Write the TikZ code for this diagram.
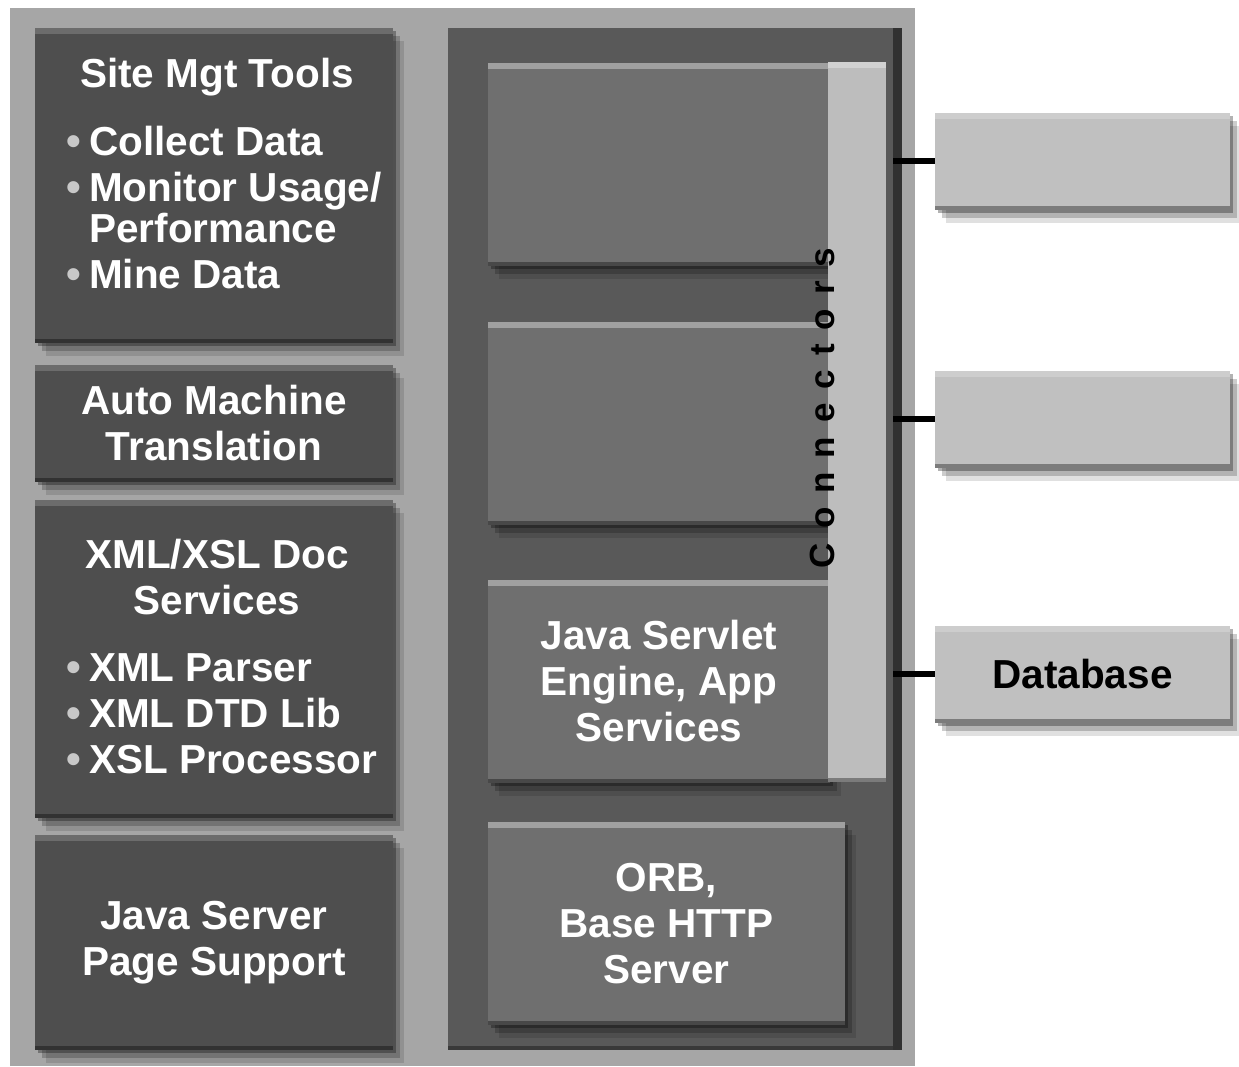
\documentclass[tikz,border=0pt]{standalone}
\usepackage{fontspec}
\setmainfont{Liberation Sans}
\usetikzlibrary{shadows}

\definecolor{panelgray}{HTML}{A6A6A6}
\definecolor{darkbox}{HTML}{4E4E4E}
\definecolor{darkhi}{HTML}{6C6C6C}
\definecolor{framegray}{HTML}{595959}
\definecolor{midbox}{HTML}{6F6F6F}
\definecolor{midhi}{HTML}{A0A0A0}
\definecolor{bargray}{HTML}{BDBDBD}
\definecolor{lightbox}{HTML}{C0C0C0}
\definecolor{bulgray}{HTML}{C8C8C8}

\newcommand{\bul}{\raisebox{0pt}{\color{bulgray}\fontsize{42}{42}\selectfont\textbullet}}

\tikzset{
  softshadow/.style={
    drop shadow={shadow xshift=3pt, shadow yshift=-3pt, opacity=.3, fill=black},
    drop shadow={shadow xshift=7pt, shadow yshift=-8pt, opacity=.2, fill=black},
    drop shadow={shadow xshift=11pt, shadow yshift=-13pt, opacity=.12, fill=black}},
  bevel/.style={path picture={
    \fill[#1] (path picture bounding box.north west) rectangle ([yshift=-6pt]path picture bounding box.north east);
    \fill[black, opacity=.35] (path picture bounding box.south west) rectangle ([yshift=4pt]path picture bounding box.south east);}},
  leftbox/.style={fill=darkbox, minimum width=358pt, inner sep=0pt, softshadow, bevel=darkhi},
  innerbox/.style={fill=midbox, minimum width=342pt, minimum height=203pt, inner sep=0pt, softshadow, bevel=midhi},
  rightbox/.style={fill=lightbox, minimum width=295pt, minimum height=97pt, inner sep=0pt, softshadow, bevel=lightbox!80!white},
  lbl/.style={text=white, font=\bfseries\fontsize{40.5}{46}\selectfont, align=center},
  link/.style={line width=6pt, black}
}

\begin{document}
\begin{tikzpicture}[x=1pt, y=-1pt]
  \useasboundingbox (0,0) rectangle (1239,1066);
  \fill[white] (0,0) rectangle (1239,1066);

  % Background panel
  \fill[panelgray] (10,8) rectangle (915,1066);

  % Server frame
  \node[fill=framegray, minimum width=445pt, minimum height=1022pt, inner sep=0pt,
        drop shadow={shadow xshift=9pt, shadow yshift=0pt, opacity=.7, fill=black},
        bevel=framegray] (frame) at (670.5,539) {};

  % Left column
  \node[leftbox, minimum height=315pt] (site) at (214,185.5) {};
  \node[lbl] (sitetitle) at (217,77) {Site Mgt Tools};
  \node[lbl, anchor=west] (sitelist) at (63,213) {%
    \begin{tabular}{@{}c@{\hspace{8pt}}l@{}}
      \bul & Collect Data\\
      \bul & Monitor Usage/\\[-5pt]
           & Performance\\
      \bul & Mine Data
    \end{tabular}};

  \node[leftbox, minimum height=117pt, lbl] (amt) at (214,423.5) {Auto Machine\\Translation};

  \node[leftbox, minimum height=318pt] (xsl) at (214,659) {};
  \node[lbl] (xsltitle) at (217,577) {XML/XSL Doc\\Services};
  \node[lbl, anchor=west] (xsllist) at (63,718) {%
    \begin{tabular}{@{}c@{\hspace{8pt}}l@{}}
      \bul & XML Parser\\
      \bul & XML DTD Lib\\
      \bul & XSL Processor
    \end{tabular}};

  \node[leftbox, minimum height=215pt, lbl] (jsp) at (214,942.5) {Java Server\\Page Support};

  % Inner boxes
  \node[innerbox] (blank1) at (659,164) {};
  \node[innerbox] (blank2) at (659,423.5) {};
  \node[innerbox, lbl] (servlet) at (659,681) {Java Servlet\\Engine, App\\Services};
  \node[innerbox, minimum width=357pt, lbl] (orb) at (666.5,923.5) {ORB,\\Base HTTP\\Server};

  % Connectors bar
  \node[fill=bargray, minimum width=58pt, minimum height=720pt, inner sep=0pt,
        bevel=bargray!70!white] (bar) at (857,422) {};
  \node[rotate=90, font=\bfseries\fontsize{35}{35}\selectfont\addfontfeature{LetterSpace=40}]
       (conn) at (822,408) {Connectors};

  % Outside boxes
  \node[rightbox] (rb1) at (1082.5,161) {};
  \node[rightbox] (rb2) at (1082.5,419) {};
  \node[rightbox, font=\bfseries\fontsize{40.5}{46}\selectfont] (db) at (1082.5,674) {Database};

  % Links
  \draw[link] (rb1.west) -- (rb1.west -| frame.east);
  \draw[link] (rb2.west) -- (rb2.west -| frame.east);
  \draw[link] (db.west) -- (db.west -| frame.east);
\end{tikzpicture}
\end{document}
